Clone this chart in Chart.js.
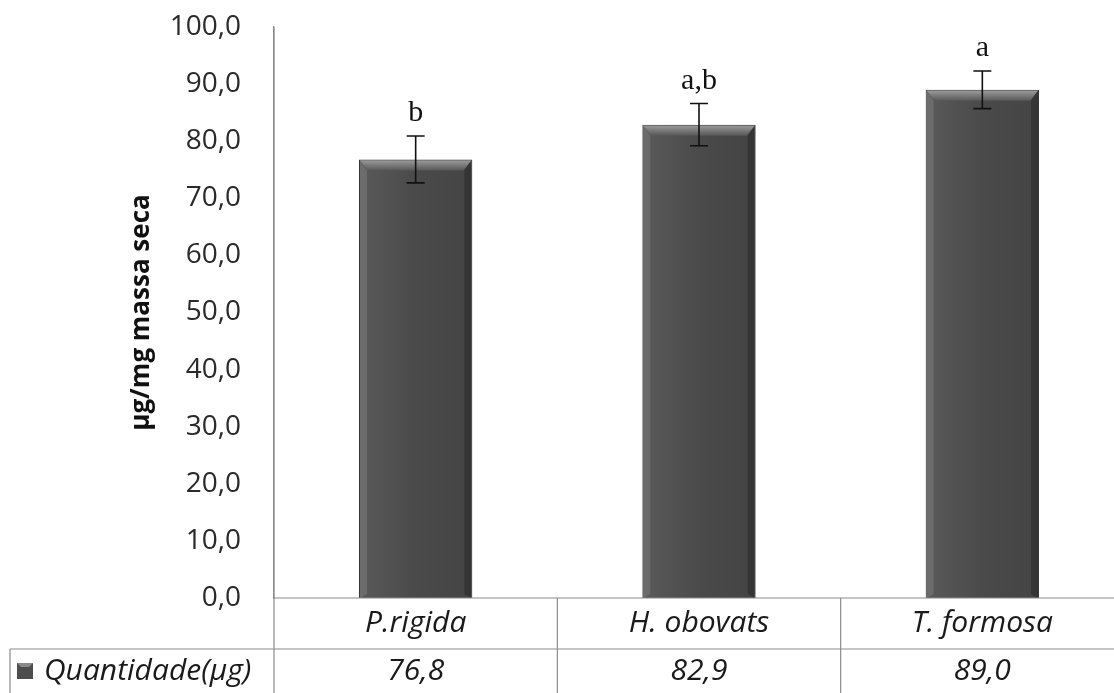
<!DOCTYPE html>
<html>
<head>
<meta charset="utf-8">
<script src="https://cdn.jsdelivr.net/npm/chart.js@4.4.1/dist/chart.umd.min.js"></script>
<style>
  html, body { margin: 0; padding: 0; background: #fff; overflow: hidden; }
  #wrap { width: 1114px; height: 693px; overflow: hidden; }
</style>
</head>
<body>
<div id="wrap"><canvas id="chart" width="1124" height="693"></canvas></div>
<script>
const categories = ['P.rigida', 'H. obovats', 'T. formosa'];
const quantidade = [76.8, 82.9, 89.0];
const erro = [4.1, 3.7, 3.3];
const letras = ['b', 'a,b', 'a'];
const seriesName = 'Quantidade(\u00b5g)';
const tableValues = ['76,8', '82,9', '89,0'];

const fmt = v => v.toFixed(1).replace('.', ',');

// error bars, letters and the bevel on the bars
const barExtras = {
  id: 'barExtras',
  afterDatasetsDraw(chart) {
    const ctx = chart.ctx;
    const y = chart.scales.y;
    const meta = chart.getDatasetMeta(0);
    meta.data.forEach((bar, i) => {
      const left = bar.x - bar.width / 2;
      const right = bar.x + bar.width / 2;
      const top = bar.y;
      const bot = bar.base;
      ctx.save();
      // face gradient
      const f = ctx.createLinearGradient(left, 0, right, 0);
      f.addColorStop(0, '#5a5a5a');
      f.addColorStop(0.5, '#4a4a4a');
      f.addColorStop(1, '#444444');
      ctx.fillStyle = f;
      ctx.fillRect(left + 1, top + 1, bar.width - 2, bot - top - 1);
      // top bevel
      const g = ctx.createLinearGradient(0, top, 0, top + 11);
      g.addColorStop(0, '#a0a0a0');
      g.addColorStop(1, '#575757');
      ctx.fillStyle = g;
      ctx.beginPath();
      ctx.moveTo(left + 1, top + 1);
      ctx.lineTo(right - 1, top + 1);
      ctx.lineTo(right - 9, top + 11);
      ctx.lineTo(left + 9, top + 11);
      ctx.closePath();
      ctx.fill();
      // side bevels
      ctx.fillStyle = 'rgba(130,130,130,0.45)';
      ctx.beginPath();
      ctx.moveTo(left + 1, top + 1);
      ctx.lineTo(left + 8, top + 11);
      ctx.lineTo(left + 8, bot - 4);
      ctx.lineTo(left + 1, bot);
      ctx.closePath();
      ctx.fill();
      ctx.fillStyle = 'rgba(30,30,30,0.4)';
      ctx.beginPath();
      ctx.moveTo(right - 1, top + 1);
      ctx.lineTo(right - 8, top + 11);
      ctx.lineTo(right - 8, bot - 4);
      ctx.lineTo(right - 1, bot);
      ctx.closePath();
      ctx.fill();

      // error bar
      const hi = y.getPixelForValue(quantidade[i] + erro[i]);
      const lo = y.getPixelForValue(quantidade[i] - erro[i]);
      ctx.strokeStyle = '#111';
      ctx.lineWidth = 1.6;
      ctx.beginPath();
      ctx.moveTo(bar.x, hi); ctx.lineTo(bar.x, lo);
      ctx.moveTo(bar.x - 9, hi); ctx.lineTo(bar.x + 9, hi);
      ctx.moveTo(bar.x - 9, lo); ctx.lineTo(bar.x + 9, lo);
      ctx.stroke();

      // letter
      ctx.fillStyle = '#111';
      ctx.font = '30px "Liberation Serif", serif';
      ctx.textAlign = 'center';
      ctx.textBaseline = 'alphabetic';
      ctx.fillText(letras[i], bar.x, hi - 15);
      ctx.restore();
    });
  }
};

// data table under the chart
const dataTable = {
  id: 'dataTable',
  afterDraw(chart) {
    const ctx = chart.ctx;
    const x = chart.scales.x;
    const area = chart.chartArea;
    const row1 = area.bottom;
    const row2 = row1 + 51;
    const bottom = chart.height + 5;
    const half = (x.getPixelForValue(1) - x.getPixelForValue(0)) / 2;
    ctx.save();
    ctx.strokeStyle = '#8c8c8c';
    ctx.lineWidth = 1.2;
    ctx.beginPath();
    ctx.moveTo(area.left, row1); ctx.lineTo(chart.width, row1);
    ctx.moveTo(10, row2); ctx.lineTo(chart.width, row2);
    ctx.moveTo(10, row2); ctx.lineTo(10, bottom);
    ctx.moveTo(area.left, area.top); ctx.lineTo(area.left, bottom);
    categories.forEach((c, i) => {
      const sx = x.getPixelForValue(i) + half;
      ctx.moveTo(sx, row1); ctx.lineTo(sx, bottom);
    });
    ctx.stroke();

    ctx.fillStyle = '#1a1a1a';
    ctx.font = 'italic 30px "Open Sans", sans-serif';
    ctx.textAlign = 'center';
    ctx.textBaseline = 'middle';
    categories.forEach((c, i) => {
      const cx = x.getPixelForValue(i);
      ctx.fillText(c, cx, row1 + 25);
      ctx.fillText(tableValues[i], cx, row2 + 22);
    });

    // legend key
    const kx = 17, ky = row2 + 14, ks = 16;
    ctx.fillStyle = '#4d4d4d';
    ctx.fillRect(kx, ky, ks, ks);
    ctx.fillStyle = '#8a8a8a';
    ctx.beginPath();
    ctx.moveTo(kx, ky); ctx.lineTo(kx + ks, ky);
    ctx.lineTo(kx + ks - 4, ky + 4); ctx.lineTo(kx + 4, ky + 4);
    ctx.closePath();
    ctx.fill();
    ctx.fillStyle = '#1a1a1a';
    ctx.textAlign = 'left';
    ctx.fillText(seriesName, 44, row2 + 22);
    ctx.restore();
  }
};

new Chart(document.getElementById('chart').getContext('2d'), {
  type: 'bar',
  data: {
    labels: categories,
    datasets: [{
      label: seriesName,
      data: quantidade,
      backgroundColor: '#4f4f4f',
      borderColor: '#363636',
      borderWidth: 1,
      barPercentage: 0.4,
      categoryPercentage: 1.0
    }]
  },
  options: {
    responsive: false,
    animation: false,
    events: [],
    layout: { padding: { left: 126, top: 27, bottom: 95, right: 0 } },
    plugins: {
      legend: { display: false },
      tooltip: { enabled: false }
    },
    scales: {
      x: {
        display: false,
        grid: { display: false }
      },
      y: {
        min: 0,
        max: 100,
        afterFit(scale) { scale.width = 148; },
        grid: { display: false, drawTicks: true, tickLength: 33, tickColor: 'rgba(0,0,0,0)' },
        border: { display: true, color: '#8c8c8c', width: 1.2 },
        ticks: {
          stepSize: 10,
          padding: 0,
          color: '#2a2a2a',
          font: { family: '"Open Sans", sans-serif', size: 28 },
          callback: v => fmt(v)
        },
        title: {
          display: true,
          text: '\u00b5g/mg massa seca',
          color: '#111',
          padding: { top: 0, bottom: 0 },
          font: { family: '"Open Sans", sans-serif', size: 26, weight: 'bold' }
        }
      }
    }
  },
  plugins: [barExtras, dataTable]
});
</script>
</body>
</html>
